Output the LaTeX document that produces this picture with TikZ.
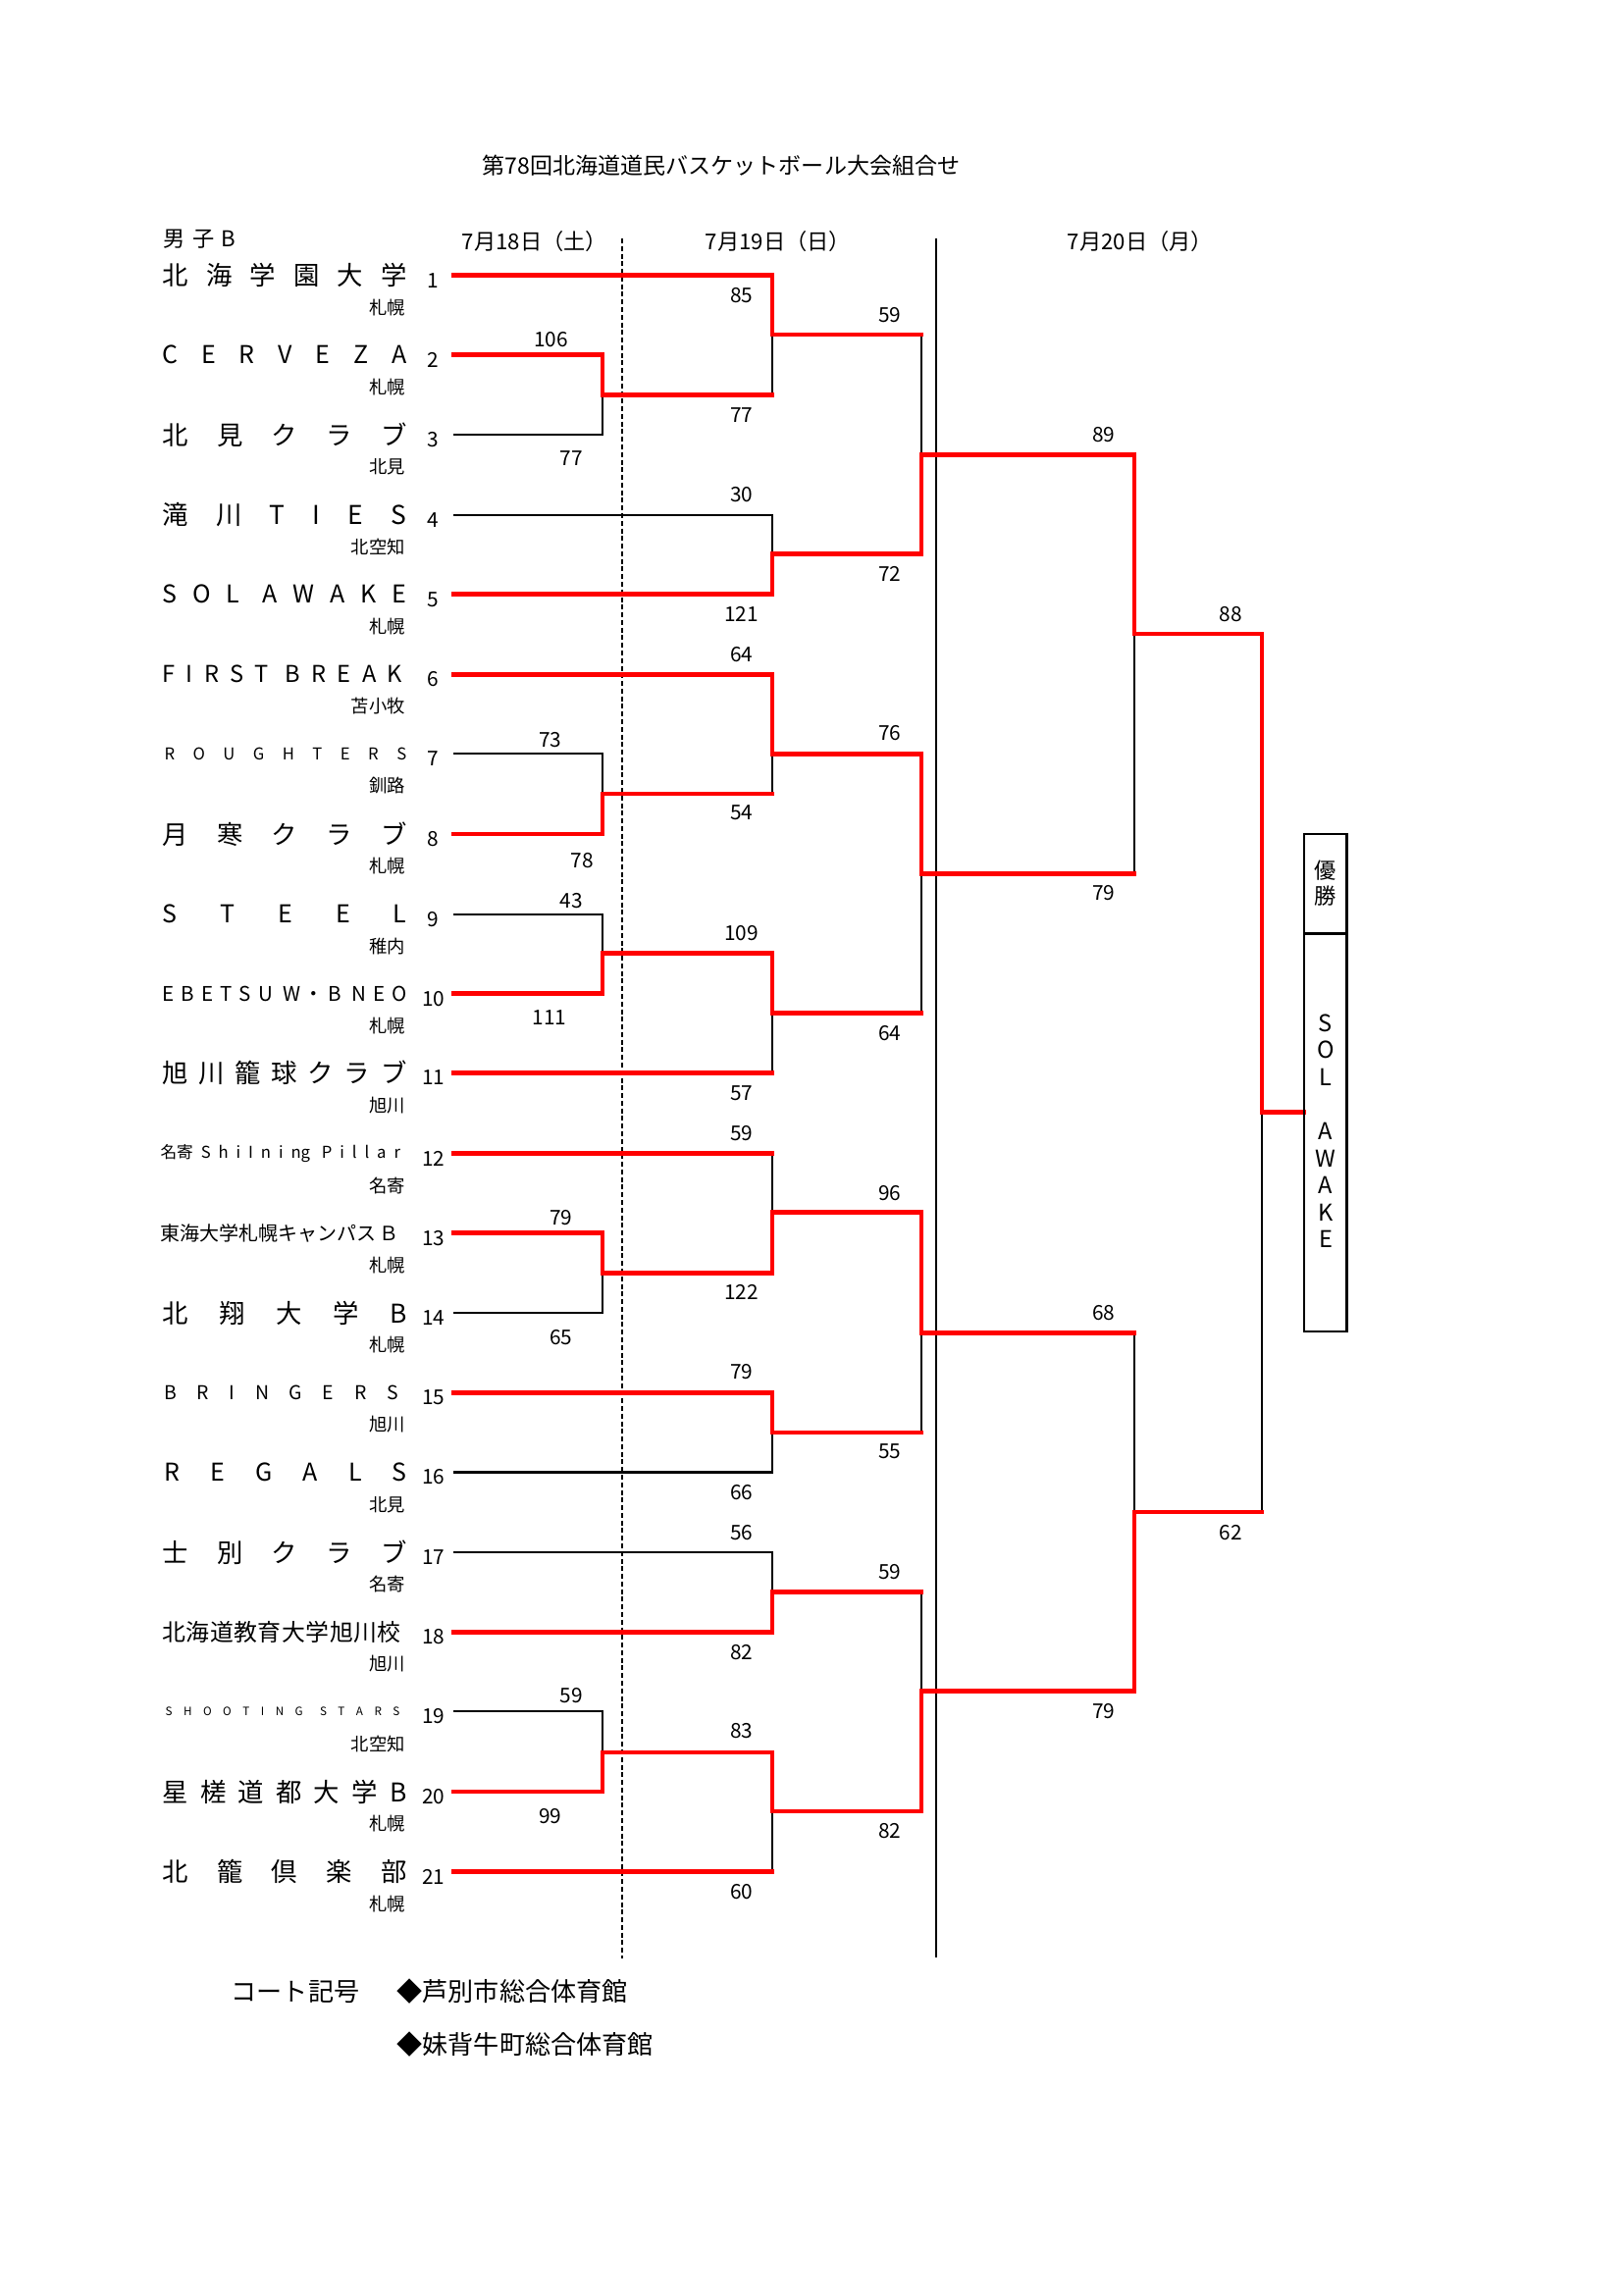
\documentclass[tikz,border=0pt]{standalone}
\usepackage{fontspec}
\setmainfont{Noto Sans CJK JP}
\definecolor{bred}{RGB}{255,0,0}
\newcommand\tmname[2][89.6pt]{\hbox to #1{#2}}
\newcommand\fsz[1]{\fontsize{#1}{#1}\selectfont}
\newcommand\wg{\hskip 0pt plus 1.5fill\relax}
\begin{document}
\begin{tikzpicture}[x=0.36pt,y=-0.36pt,
  redl/.style={draw=bred,line width=1.6pt,line cap=rect},
  blkl/.style={draw=black,line width=0.8pt},
  score/.style={font=\fsz{7.5},inner sep=0pt},
  tnum/.style={font=\fsz{7.5},inner sep=0pt},
  loc/.style={font=\fsz{6.6},inner sep=0pt,anchor=east},
  tname/.style={font=\fsz{9.5},inner sep=0pt,anchor=west},
  head/.style={font=\fsz{8},inner sep=0pt},
  foot/.style={font=\fsz{9.4},inner sep=0pt}]
\fill[white] (0,0) rectangle (1654,2339);
\useasboundingbox (0,0) rectangle (1654,2339);

% title and headers
\node[head,font=\fsz{8.3}] (title) at (735,168.5) {第78回北海道道民バスケットボール大会組合せ};
\node[head,anchor=west] (cat) at (166,244) {\hbox to 26.6pt{男\hfill 子\hfill B}};
\node[head] (day1) at (545,246) {7月18日（土）};
\node[head] (day2) at (793,246) {7月19日（日）};
\node[head] (day3) at (1162,246) {7月20日（月）};

% day separators
\draw[black,line width=0.6pt,dash pattern=on 1.8pt off 1pt] (634,243) -- (634,1996);
\draw[black,line width=0.6pt] (954,243) -- (954,1995);

% team line starts
\foreach \i/\y in {1/280.7,2/361.7,3/443.3,4/524.6,5/605.7,6/687.3,7/768.3,8/850,9/931.7,10/1012.7,11/1093.5,12/1175.7,13/1256.7,14/1338.3,15/1419.3,16/1500.5,17/1582.3,18/1663.3,19/1744.3,20/1826,21/1907.5}{
  \coordinate (t\i) at (462,\y);
  \node[tnum] (no\i) at (441.7,\y+5) {\i};
}

% team names
\node[tname] (n1) at (165,280.7) {\tmname{北\hfill 海\hfill 学\hfill 園\hfill 大\hfill 学}};
\node[tname,font=\fsz{9}] (n2) at (165,361.7) {\tmname{C\hfill E\hfill R\hfill V\hfill E\hfill Z\hfill A}};
\node[tname] (n3) at (165,443.3) {\tmname{北\hfill 見\hfill ク\hfill ラ\hfill ブ}};
\node[tname] (n4) at (165,524.6) {\tmname{滝\hfill 川\hfill T\hfill I\hfill E\hfill S}};
\node[tname,font=\fsz{9}] (n5) at (165,605.7) {\tmname{S\hfill O\hfill L\wg A\hfill W\hfill A\hfill K\hfill E}};
\node[tname,font=\fsz{8.5}] (n6) at (165,687.3) {\tmname[88pt]{F\hfill I\hfill R\hfill S\hfill T\wg B\hfill R\hfill E\hfill A\hfill K}};
\node[tname,font=\fsz{6}] (n7) at (167,768.3) {\tmname[88.8pt]{R\hfill O\hfill U\hfill G\hfill H\hfill T\hfill E\hfill R\hfill S}};
\node[tname] (n8) at (165,850) {\tmname{月\hfill 寒\hfill ク\hfill ラ\hfill ブ}};
\node[tname,font=\fsz{9}] (n9) at (165,931.7) {\tmname{S\hfill T\hfill E\hfill E\hfill L}};
\node[tname,font=\fsz{7.4}] (n10) at (165,1012.7) {\tmname{E\hfill B\hfill E\hfill T\hfill S\hfill U\wg W\hskip 0pt plus 0.5fill・\hskip 0pt plus 0.5fill B\wg N\hfill E\hfill O}};
\node[tname] (n11) at (165,1093.5) {\tmname{旭\hfill 川\hfill 籠\hfill 球\hfill ク\hfill ラ\hfill ブ}};
\node[tname,font=\fsz{6}] (n12) at (163,1175.7) {\tmname[88pt]{名寄\hfill S\hfill h\hfill i\hfill I\hfill n\hfill i\hfill ng\wg P\hfill i\hfill l\hfill l\hfill a\hfill r}};
\node[tname,font=\fsz{7.2}] (n13) at (163,1256.7) {\tmname[87.5pt]{東海大学札幌キャンパス\hfill Ｂ}};
\node[tname] (n14) at (165,1338.3) {\tmname{北\hfill 翔\hfill 大\hfill 学\hfill B}};
\node[tname,font=\fsz{7}] (n15) at (167,1419.3) {\tmname[85.7pt]{B\hfill R\hfill I\hfill N\hfill G\hfill E\hfill R\hfill S}};
\node[tname,font=\fsz{9}] (n16) at (167,1500.5) {\tmname[89pt]{R\hfill E\hfill G\hfill A\hfill L\hfill S}};
\node[tname] (n17) at (165,1582.3) {\tmname{士\hfill 別\hfill ク\hfill ラ\hfill ブ}};
\node[tname,font=\fsz{8.6}] (n18) at (165,1663.3) {\tmname[87.5pt]{北\hfill 海\hfill 道\hfill 教\hfill 育\hfill 大\hfill 学\hfill 旭\hfill 川\hfill 校}};
\node[tname,font=\fsz{4.2}] (n19) at (168,1744.3) {\tmname[86pt]{S\hfill H\hfill O\hfill O\hfill T\hfill I\hfill N\hfill G\wg S\hfill T\hfill A\hfill R\hfill S}};
\node[tname] (n20) at (165,1826) {\tmname{星\hfill 槎\hfill 道\hfill 都\hfill 大\hfill 学\hfill B}};
\node[tname] (n21) at (165,1907.5) {\tmname{北\hfill 籠\hfill 倶\hfill 楽\hfill 部}};

% home towns
\foreach \i/\y/\c in {1/280.7/札幌,2/361.7/札幌,3/443.3/北見,4/524.6/北空知,5/605.7/札幌,6/687.3/苫小牧,7/768.3/釧路,8/850/札幌,9/931.7/稚内,10/1012.7/札幌,11/1093.5/旭川,12/1175.7/名寄,13/1256.7/札幌,14/1338.3/札幌,15/1419.3/旭川,16/1500.5/北見,17/1582.3/名寄,18/1663.3/旭川,19/1744.3/北空知,20/1826/札幌,21/1907.5/札幌}{
  \node[loc] (c\i) at (413.3,\y+32.7) {\c};
}

% match points
\coordinate (mA) at (614,402.3);
\coordinate (mB) at (787,341);
\coordinate (mC) at (787,564.3);
\coordinate (mD) at (939,463.3);
\coordinate (mE) at (614,809);
\coordinate (mF) at (787,768.3);
\coordinate (mG) at (614,971.7);
\coordinate (mH) at (787,1032.7);
\coordinate (mI) at (939,890.7);
\coordinate (mJ) at (1156,645.8);
\coordinate (mK) at (614,1297.3);
\coordinate (mL) at (787,1235.7);
\coordinate (mM) at (787,1460);
\coordinate (mN) at (939,1358.3);
\coordinate (mO) at (787,1622.3);
\coordinate (mP) at (614,1785.7);
\coordinate (mQ) at (787,1845.7);
\coordinate (mR) at (939,1723.3);
\coordinate (mS) at (1156,1540.7);
\coordinate (mW) at (1286,1133.5);
\coordinate (boxin) at (1329,1133.5);

% black (losing) segments
\draw[blkl] (t3) -| (mA);
\draw[blkl] (mA -| mB) -- (mB);
\draw[blkl] (t4) -| (mC);
\draw[blkl] (mB -| mD) -- (mD);
\draw[blkl] (t7) -| (mE);
\draw[blkl] (mE -| mF) -- (mF);
\draw[blkl] (t9) -| (mG);
\draw[blkl] (t11 -| mH) -- (mH);
\draw[blkl] (mH -| mI) -- (mI);
\draw[blkl] (mI -| mJ) -- (mJ);
\draw[blkl] (t14) -| (mK);
\draw[blkl] (t12 -| mL) -- (mL);
\draw[blkl] (t16) -| (mM);
\draw[blkl] (mM -| mN) -- (mN);
\draw[blkl] (t17) -| (mO);
\draw[blkl] (t19) -| (mP);
\draw[blkl] (t21 -| mQ) -- (mQ);
\draw[blkl] (mO -| mR) -- (mR);
\draw[blkl] (mN -| mS) -- (mS);
\draw[blkl] (mS -| mW) -- (mW);

% red segments
\draw[redl] (t2) -| (mA);
\draw[redl] (t1) -| (mB);
\draw[redl] (mA) -- (mA -| mB);
\draw[redl] (t5) -| (mC);
\draw[redl] (mB) -- (mB -| mD);
\draw[redl] (mC) -| (mD);
\draw[redl] (t8) -| (mE);
\draw[redl] (t6) -| (mF);
\draw[redl] (mE) -- (mE -| mF);
\draw[redl] (t10) -| (mG);
\draw[redl] (mG) -| (mH);
\draw[redl] (t11) -- (t11 -| mH);
\draw[redl] (mF) -| (mI);
\draw[redl] (mH) -- (mH -| mI);
\draw[redl] (mD) -| (mJ);
\draw[redl] (mI) -- (mI -| mJ);
\draw[redl] (t13) -| (mK);
\draw[redl] (t12) -- (t12 -| mL);
\draw[redl] (mK) -| (mL);
\draw[redl] (t15) -| (mM);
\draw[redl] (mL) -| (mN);
\draw[redl] (mM) -- (mM -| mN);
\draw[redl] (t18) -| (mO);
\draw[redl] (t20) -| (mP);
\draw[redl] (mP) -| (mQ);
\draw[redl] (t21) -- (t21 -| mQ);
\draw[redl] (mQ) -| (mR);
\draw[redl] (mO) -- (mO -| mR);
\draw[redl] (mR) -| (mS);
\draw[redl] (mN) -- (mN -| mS);
\draw[redl] (mJ) -| (mW);
\draw[redl] (mS) -- (mS -| mW);
\draw[redl] (mW) -- (boxin);

% champion box
\draw[black,line width=0.9pt] (1329,850) rectangle (1372.5,1357);
\draw[black,line width=0.9pt] (1329,951.6) -- (1372.5,951.6);
\node[font=\fontsize{8}{9.4}\selectfont,inner sep=0pt,align=center] (yusho) at (1351,900) {優\\勝};
\node[font=\fontsize{8.5}{9.92}\selectfont,inner sep=0pt,align=center] (champ) at (1351,1152.8) {S\\O\\L\\~\\A\\W\\A\\K\\E};

% scores round 1
\node[score] (s1) at (561.7,346) {106};
\node[score] (s2) at (582.3,467.3) {77};
\node[score] (s3) at (560.7,754.3) {73};
\node[score] (s4) at (593.3,876.7) {78};
\node[score] (s5) at (582.3,917.7) {43};
\node[score] (s6) at (560,1036.7) {111};
\node[score] (s7) at (571.7,1240.7) {79};
\node[score] (s8) at (571.7,1362.7) {65};
\node[score] (s9) at (582.3,1728.3) {59};
\node[score] (s10) at (560.7,1850.7) {99};
% round 2
\foreach \k/\y/\v in {a/300.7/85,b/422.7/77,c/504/30,d/626/121,e/666.7/64,f/828.3/54,g/950.7/109,h/1114/57,i/1155/59,j/1316.7/122,k/1398.3/79,l/1520.7/66,m/1561.7/56,n/1684/82,o/1764/83,p/1928.3/60}{
  \node[score] (r2\k) at (755.7,\y) {\v};
}
% round 3
\foreach \k/\y/\v in {a/320.7/59,b/585/72,c/747.3/76,d/1052.7/64,e/1215.7/96,f/1479.3/55,g/1601.7/59,h/1866/82}{
  \node[score] (r3\k) at (906.7,\y) {\v};
}
% round 4 and final
\node[score] (r4a) at (1124.6,443) {89};
\node[score] (r4b) at (1124.6,910) {79};
\node[score] (r4c) at (1124.6,1338) {68};
\node[score] (r4d) at (1124.6,1743.6) {79};
\node[score] (r5a) at (1254.3,626.4) {88};
\node[score] (r5b) at (1254.3,1561.6) {62};

% footer
\node[foot] (court) at (301,2030) {コート記号};
\node[foot,anchor=west] (v1) at (404,2030) {◆芦別市総合体育館};
\node[foot,anchor=west] (v2) at (404,2084) {◆妹背牛町総合体育館};
\end{tikzpicture}
\end{document}
